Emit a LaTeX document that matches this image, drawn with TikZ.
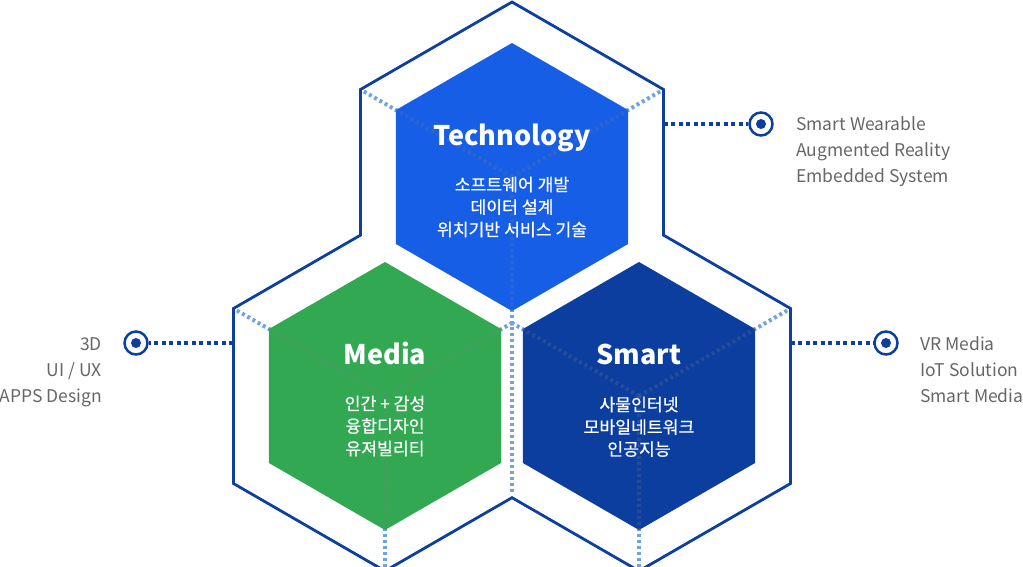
\documentclass[tikz,border=0pt]{standalone}
\usepackage{fontspec}
\setmainfont{Noto Sans CJK KR}
\newfontfamily\subfont[FakeBold=0.5]{Noto Sans CJK KR}
\definecolor{outl}{HTML}{0D3FA0}
\definecolor{techc}{HTML}{165EE6}
\definecolor{medc}{HTML}{33A853}
\definecolor{smartc}{HTML}{0C3EA0}
\definecolor{dotc}{HTML}{6FA5DC}
\definecolor{labc}{HTML}{666666}
\begin{document}
\begin{tikzpicture}[x=1pt,y=-1pt,
  outline/.style={draw=outl,line width=2.8pt,line join=miter},
  dotline/.style={draw=dotc,line width=4pt,dash pattern=on 3pt off 3pt},
  faint/.style={draw=black!50,draw opacity=.22,line width=4pt,dash pattern=on 3pt off 3pt},
  conn/.style={draw=outl,line width=4pt,dash pattern=on 4pt off 3.5pt},
  title/.style={text=white,font=\fontsize{27}{32}\selectfont\bfseries,inner sep=0pt,anchor=base},
  sub/.style={text=white,font=\subfont\fontsize{17.2}{22}\selectfont,inner sep=0pt,anchor=base},
  lab/.style={text=labc,font=\fontsize{17.5}{26}\selectfont,inner sep=0pt},
  ring/.style={circle,draw=outl,line width=2.5pt,minimum size=23pt,inner sep=0pt,fill=white},
  ]
\useasboundingbox (0,0) rectangle (1023,567);
\clip (0,0) rectangle (1023,567);
% centres
\coordinate (Tc) at (512,177);
\coordinate (Mc) at (385,396);
\coordinate (Sc) at (639,396);
\coordinate (G) at (512,323);
% outer vertices
\coordinate (ToUL) at (360.45,89.5);
\coordinate (ToUR) at (663.55,89.5);
\coordinate (MoUL) at (233.45,308.5);
\coordinate (SoUR) at (790.55,308.5);
\coordinate (Nt) at (512,494);
\coordinate (Mb) at (385,570);
\coordinate (Sb) at (639,570);
% inner vertices
\coordinate (TiUL) at (395.95,110);
\coordinate (TiUR) at (628.05,110);
\coordinate (TiB) at (512,311);
\coordinate (MiUL) at (268.95,329);
\coordinate (MiUR) at (501.05,329);
\coordinate (MiB) at (385,530);
\coordinate (SiUL) at (522.95,329);
\coordinate (SiUR) at (755.05,329);
\coordinate (SiB) at (639,530);
% dotted guide lines
\draw[dotline] (Tc) -- (ToUL);
\draw[dotline] (Tc) -- (ToUR);
\draw[dotline] (Tc) -- (Nt);
\draw[dotline] (Mc) -- (MoUL);
\draw[dotline] (Mc) -- (G);
\draw[dotline] (Mc) -- (Mb);
\draw[dotline] (Sc) -- (SoUR);
\draw[dotline] (Sc) -- (G);
\draw[dotline] (Sc) -- (Sb);
% union outline
\draw[outline] (512,2) -- (663.55,89.5) -- (663.55,235.17) -- (790.55,308.5)
  -- (790.55,483.5) -- (639,571) -- (512,497.67) -- (385,571) -- (233.45,483.5)
  -- (233.45,308.5) -- (360.45,235.17) -- (360.45,89.5) -- cycle;
% inner hexagons
\fill[techc] (512,43) -- (TiUR) -- (628.05,244) -- (TiB) -- (395.95,244) -- (TiUL) -- cycle;
\fill[medc] (385,262) -- (MiUR) -- (501.05,463) -- (MiB) -- (268.95,463) -- (MiUL) -- cycle;
\fill[smartc] (639,262) -- (SiUR) -- (755.05,463) -- (SiB) -- (522.95,463) -- (SiUL) -- cycle;
% faint guide lines inside
\draw[faint] (Tc) -- (TiUL);
\draw[faint] (Tc) -- (TiUR);
\draw[faint] (Tc) -- (TiB);
\draw[faint] (Mc) -- (MiUL);
\draw[faint] (Mc) -- (MiUR);
\draw[faint] (Mc) -- (MiB);
\draw[faint] (Sc) -- (SiUL);
\draw[faint] (Sc) -- (SiUR);
\draw[faint] (Sc) -- (SiB);
% texts
\node[title] (tT) at (512,146) {Technology};
\node[sub] (tT1) at (512,191) {소프트웨어 개발};
\node[sub] (tT2) at (512,213.5) {데이터 설계};
\node[sub] (tT3) at (512,236) {위치기반 서비스 기술};
\node[title] (tM) at (385,364) {Media};
\node[sub] (tM1) at (385,410) {인간 + 감성};
\node[sub] (tM2) at (385,432.5) {융합디자인};
\node[sub] (tM3) at (385,455) {유져빌리티};
\node[title] (tS) at (639,364) {Smart};
\node[sub] (tS1) at (639,411) {사물인터넷};
\node[sub] (tS2) at (639,433.5) {모바일네트워크};
\node[sub] (tS3) at (639,455.5) {인공지능};
% connectors and markers
\coordinate (eT) at (663.55,124);
\coordinate (eM) at (233.45,343);
\coordinate (eS) at (790.55,343);
\node[ring] (c1) at (761,124) {};
\node[ring] (c2) at (136,343) {};
\node[ring] (c3) at (886,343) {};
\draw[conn] (eT) -- (c1);
\draw[conn] (eM) -- (c2);
\draw[conn] (eS) -- (c3);
\fill[outl] (c1.center) circle (5pt);
\fill[outl] (c2.center) circle (5pt);
\fill[outl] (c3.center) circle (5pt);
% labels
\node[lab,anchor=base west] (a1) at (796,130.5) {Smart Wearable};
\node[lab,anchor=base west] (a2) at (796,156.5) {Augmented Reality};
\node[lab,anchor=base west] (a3) at (796,182.5) {Embedded System};
\node[lab,anchor=base east] (b1) at (102,350.5) {3D};
\node[lab,anchor=base east] (b2) at (102,376.5) {UI / UX};
\node[lab,anchor=base east] (b3) at (102,402.5) {APPS Design};
\node[lab,anchor=base west] (d1) at (920,350) {VR Media};
\node[lab,anchor=base west] (d2) at (920,376) {IoT Solution};
\node[lab,anchor=base west] (d3) at (920,402) {Smart Media};
\end{tikzpicture}
\end{document}
